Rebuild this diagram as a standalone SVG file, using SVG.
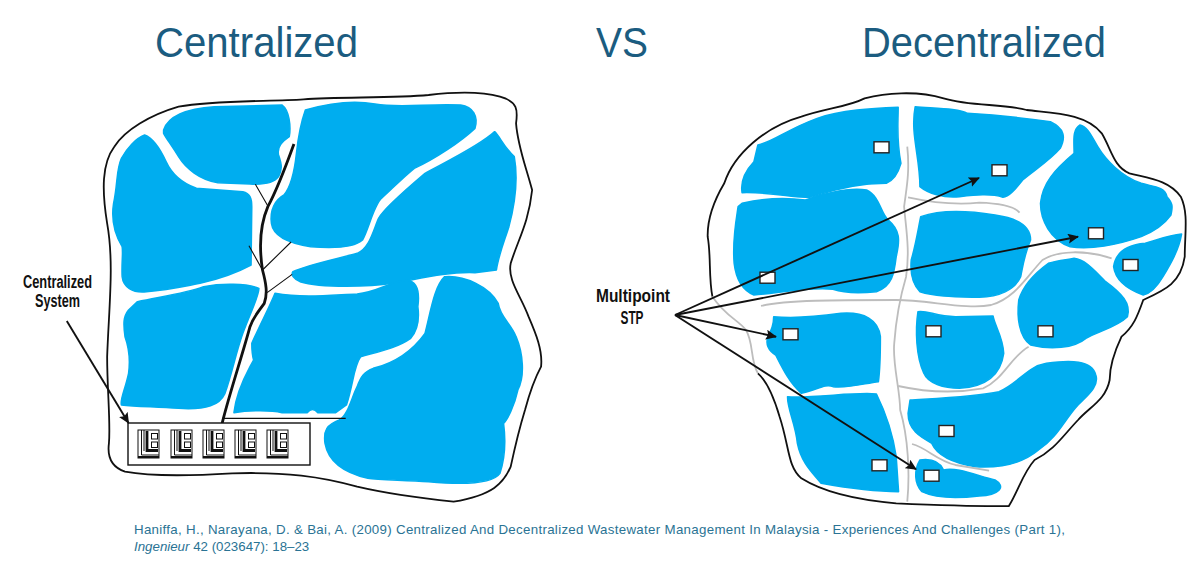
<svg xmlns="http://www.w3.org/2000/svg" width="1200" height="584" viewBox="0 0 1200 584">
<style>
.title{font-family:"Liberation Sans",Arial,sans-serif;font-size:43px;fill:#1b5c80}
.cite{font-family:"Liberation Sans",Arial,sans-serif;font-size:13.300px;fill:#2a7394}
.lab{font-family:"Liberation Sans",Arial,sans-serif;font-size:17.500px;font-weight:bold;fill:#111}
.blob{fill:#00adef;stroke:#00adef;stroke-width:1.5;stroke-linejoin:round;vector-effect:non-scaling-stroke}
.outline{fill:none;stroke:#111;stroke-width:1.8;vector-effect:non-scaling-stroke}
.road{fill:none;stroke:#bdbdbd;stroke-width:1.8;vector-effect:non-scaling-stroke}
.thin{fill:none;stroke:#111;stroke-width:1.1;vector-effect:non-scaling-stroke}
.trunk{fill:none;stroke:#111;stroke-width:2.8;vector-effect:non-scaling-stroke}
.stp{fill:#fff;stroke:#222;stroke-width:1.4}
.arrow{fill:none;stroke:#111;stroke-width:1.9;marker-end:url(#ah)}
</style>
<defs>
<marker id="ah" markerUnits="userSpaceOnUse" markerWidth="12" markerHeight="11" refX="10" refY="5" orient="auto"><path d="M0 0L11 5L0 10L2 5Z" fill="#111"/></marker>
<g id="icon">
<rect x="0" y="0" width="21" height="28" fill="#fff" stroke="#111"/>
<path d="M3.500 0V25H21M6 0V21" fill="none" stroke="#111"/>
<path d="M9 1V20.500H20" fill="none" stroke="#111" stroke-width="2.800"/>
<path d="M0 27H21" stroke="#111" stroke-width="2"/>
<rect x="13.500" y="3.500" width="6" height="5.500" fill="#fff" stroke="#111"/>
<rect x="13.500" y="12" width="6" height="5.500" fill="#fff" stroke="#111"/>
</g>
</defs>
<rect width="1200" height="584" fill="#fff"/>

<g id="titles">
<text class="title" x="155" y="57" textLength="203" lengthAdjust="spacingAndGlyphs">Centralized</text>
<text class="title" x="596" y="57" textLength="52" lengthAdjust="spacingAndGlyphs">VS</text>
<text class="title" x="862" y="57" textLength="244" lengthAdjust="spacingAndGlyphs">Decentralized</text>
</g>

<g id="centralized-map" transform="translate(0 90) scale(.35714 .33333)">
<path class="outline" d="M300 400C285 300 285 220 320 170C350 120 420 75 500 50C600 30 750 35 850 28C950 20 1100 25 1200 15C1280 5 1350 5 1400 20C1450 35 1450 60 1445 100C1450 170 1470 220 1490 300C1480 400 1450 450 1430 520C1420 570 1460 620 1480 680C1500 730 1520 780 1515 830C1490 880 1480 920 1470 960C1450 1030 1440 1080 1430 1130C1410 1180 1380 1215 1270 1235C1180 1225 1100 1215 1000 1190C900 1160 800 1145 650 1150C500 1160 400 1155 350 1145C310 1130 300 1100 305 1060C310 1000 300 900 300 800C305 650 320 520 300 400Z"/>
<path class="blob" d="M458 120C470 80 520 55 600 50L790 45C810 60 815 110 810 140C790 155 775 170 780 195C790 225 790 240 780 260C770 275 745 285 700 282L610 278C560 270 520 235 500 200C480 165 465 145 458 130Z"/>
<path class="blob" d="M855 60C920 40 990 30 1050 42C1120 55 1200 40 1290 45C1325 50 1340 80 1330 115C1290 155 1220 205 1160 235C1125 265 1090 305 1068 325C1045 350 1032 420 1015 450C990 475 930 475 870 470C810 460 765 440 760 400C755 360 770 330 795 315C815 290 825 240 830 190C835 140 845 90 855 60Z"/>
<path class="blob" d="M1385 125C1400 140 1410 170 1440 200C1450 260 1445 330 1425 410C1410 460 1395 500 1390 540L1330 548C1250 545 1180 565 1100 580C1040 590 900 595 840 575C820 565 815 555 820 545C860 525 950 505 1000 490C1035 475 1045 420 1060 385C1075 355 1135 300 1190 250C1240 220 1340 170 1385 125Z"/>
<path class="blob" d="M405 135C430 145 450 180 465 215C480 250 510 280 550 295L680 305C700 310 705 325 705 350L703 525C660 550 600 570 560 580C510 590 470 600 410 605C370 610 345 590 342 560C340 520 345 490 342 470C325 440 310 395 318 340C330 280 325 240 340 205C355 175 380 145 405 135Z"/>
<path class="blob" d="M385 635C450 620 520 610 570 590C620 580 690 580 725 595C725 620 700 670 680 730C660 790 650 850 630 910C615 945 580 960 500 955C430 950 380 950 340 945C335 930 350 900 360 850C365 810 360 770 350 740C345 700 345 680 360 660Z"/>
<path class="blob" d="M770 610C850 625 930 615 1000 612C1060 605 1090 575 1140 570C1170 575 1175 610 1170 650C1175 690 1170 720 1150 745C1110 775 1060 785 1010 800C990 830 990 880 970 945L940 968L890 968C880 955 870 955 860 968L790 968C760 960 700 960 655 968C660 920 685 860 700 830L710 810C705 790 705 780 705 760C730 700 755 650 770 610Z"/>
<path class="blob" d="M1245 560C1300 555 1370 590 1395 640C1400 680 1430 700 1445 740C1465 790 1470 860 1450 900C1440 950 1420 990 1410 1000C1415 1040 1415 1100 1400 1150C1380 1180 1300 1185 1200 1175C1130 1170 1060 1170 1030 1165C970 1150 920 1120 910 1060C905 1020 915 1005 950 990C975 975 985 920 1000 890C1010 860 1020 845 1045 835C1100 820 1150 790 1190 730C1205 670 1215 590 1245 560Z"/>
</g>

<g id="centralized-network" transform="translate(0 90) scale(.35714 .33333)">
<path class="trunk" d="M823 162C800 230 770 310 750 350C730 400 725 470 735 540C745 580 750 610 740 640C720 670 710 680 700 710C680 790 640 920 622 1000"/>
<path class="thin" d="M715 283L750 348M697 467L735 540M815 456L735 540M818 553L748 608M622 985H968"/>
</g>

<g id="centralized-system">
<rect x="128" y="423" width="182" height="42" fill="#fff" stroke="#111" stroke-width="1.4"/>
<use href="#icon" x="138" y="430"/>
<use href="#icon" x="171" y="430"/>
<use href="#icon" x="203" y="430"/>
<use href="#icon" x="235" y="430"/>
<use href="#icon" x="267" y="430"/>
</g>

<g id="centralized-label">
<text class="lab" x="23" y="288" textLength="69" lengthAdjust="spacingAndGlyphs">Centralized</text>
<text class="lab" x="35" y="307" textLength="45" lengthAdjust="spacingAndGlyphs">System</text>
</g>

<g id="decentralized-map" transform="translate(580 90) scale(.39526 .33333)">
<path class="outline" d="M335 620C325 560 332 500 323 440C322 380 345 320 365 280C390 190 470 110 560 80C620 55 680 50 720 25C770 10 850 0 920 25C990 50 1070 40 1130 60C1200 70 1280 70 1320 130C1345 180 1350 230 1390 250C1440 265 1490 270 1520 320C1540 370 1530 430 1530 500C1520 580 1480 600 1425 630C1410 680 1400 710 1370 740C1350 790 1340 830 1340 870C1330 930 1290 950 1260 990C1220 1040 1200 1080 1150 1110C1120 1150 1110 1200 1085 1248C1000 1250 900 1245 800 1240C700 1230 620 1210 560 1165C525 1130 530 1070 505 980C490 920 470 870 450 850"/>
<path class="road" d="M335 620C370 680 400 690 420 720C440 760 430 810 450 850"/>
<path class="blob" d="M450 165C490 155 520 120 600 85C660 60 740 55 805 52C805 100 800 150 812 220C805 250 795 270 775 280C720 280 650 295 590 320C550 330 500 305 410 308C405 270 420 240 440 215Z"/>
<path class="blob" d="M410 340C480 320 540 325 570 330C620 310 680 290 725 300C760 320 760 370 780 390C810 420 810 450 800 500C795 550 790 590 750 605C710 610 670 610 640 598C580 590 500 610 440 615C410 600 395 570 390 520C385 450 395 390 400 350Z"/>
<path class="blob" d="M848 50C900 55 960 55 980 70C1050 75 1130 85 1190 95C1225 115 1230 140 1215 175C1190 210 1150 240 1120 270C1100 300 1085 320 1070 322C1040 310 1000 315 960 320C920 325 880 310 860 290C860 200 835 130 848 50Z"/>
<path class="blob" d="M862 380C910 360 970 360 1050 375C1110 385 1140 410 1140 450C1125 490 1120 530 1115 560C1100 600 1060 620 1010 622C950 620 900 620 860 605C840 580 835 550 838 510C850 460 855 420 862 380Z"/>
<path class="blob" d="M1265 105C1285 110 1295 140 1310 170C1330 210 1370 260 1420 280C1450 290 1480 290 1485 320C1500 340 1500 350 1495 375C1480 400 1460 420 1420 440C1360 465 1290 480 1240 470C1190 450 1165 390 1165 340C1170 280 1200 240 1250 190C1250 150 1245 120 1265 105Z"/>
<path class="blob" d="M1522 432C1515 480 1495 520 1475 560C1460 590 1445 610 1425 615C1390 600 1355 575 1350 530C1355 490 1380 465 1430 460C1460 450 1490 435 1522 432Z"/>
<path class="blob" d="M1250 505C1280 510 1300 540 1330 575C1370 610 1395 640 1385 680C1360 710 1310 725 1280 745C1250 775 1190 780 1140 765C1110 740 1105 680 1110 630C1120 590 1150 550 1185 520C1210 510 1230 510 1250 505Z"/>
<path class="blob" d="M490 680C530 685 600 680 660 670C720 665 755 690 760 740C760 790 760 830 755 875C720 880 680 895 640 890C620 880 600 900 560 910C530 880 510 830 495 795C475 780 470 760 475 740C485 720 490 700 490 680Z"/>
<path class="blob" d="M855 665C880 660 900 680 950 680L1045 678C1050 710 1070 740 1072 790C1065 850 1030 890 960 895C920 895 880 880 870 850C850 800 848 720 855 665Z"/>
<path class="blob" d="M835 930C900 925 1000 920 1060 905C1110 880 1130 830 1180 820C1240 810 1295 810 1305 855C1315 890 1280 920 1260 945C1225 990 1210 1040 1160 1080C1120 1120 1070 1135 1000 1130C950 1120 905 1100 890 1060C860 1040 830 1020 830 970Z"/>
<path class="blob" d="M525 920C590 925 700 905 750 912C770 960 790 1020 800 1100L806 1205C750 1205 680 1195 610 1180C590 1150 560 1120 550 1060C545 1000 525 960 525 920Z"/>
<path class="blob" d="M860 1110C890 1105 910 1115 920 1140C950 1130 1000 1155 1050 1170C1080 1190 1060 1215 1010 1218C960 1225 900 1225 865 1205C845 1180 845 1140 860 1110Z"/>
<path class="road" d="M828 170C835 250 825 300 820 350C825 420 835 480 825 560C810 620 800 680 795 760C790 820 810 900 810 960C830 1040 835 1150 828 1235"/>
<path class="road" d="M830 322C880 335 950 345 1010 338C1060 340 1100 350 1112 368"/>
<path class="road" d="M458 648C520 630 650 630 800 630C880 630 980 660 1040 645C1100 625 1130 560 1170 510C1210 480 1280 480 1345 505"/>
<path class="road" d="M805 888C870 905 950 910 1020 895C1070 870 1090 800 1135 770"/>
<path class="road" d="M840 1062C880 1075 900 1110 950 1125L1035 1142"/>
</g>

<g id="stp-units">
<rect class="stp" x="874" y="141.800" width="15" height="11"/>
<rect class="stp" x="992" y="164.800" width="15" height="11"/>
<rect class="stp" x="1088.500" y="227.800" width="15" height="11"/>
<rect class="stp" x="1123" y="259.500" width="15" height="11"/>
<rect class="stp" x="760" y="272.200" width="15" height="11"/>
<rect class="stp" x="783" y="328.800" width="15" height="11"/>
<rect class="stp" x="926" y="325.800" width="15" height="11"/>
<rect class="stp" x="1038" y="325.800" width="15" height="11"/>
<rect class="stp" x="939" y="425.500" width="15" height="11"/>
<rect class="stp" x="872" y="459.800" width="15" height="11"/>
<rect class="stp" x="924" y="470.200" width="15" height="11"/>
</g>

<g id="connectors">
<path class="arrow" d="M66.800 321L128.500 423" stroke-width="1.3"/>
<path class="arrow" d="M675 315L979 178"/>
<path class="arrow" d="M675 315L1078 236.700"/>
<path class="arrow" d="M675 315L776 336.700"/>
<path class="arrow" d="M675 315L916 469.300"/>
</g>

<g id="multipoint-label">
<text class="lab" x="596" y="302" textLength="74" lengthAdjust="spacingAndGlyphs">Multipoint</text>
<text class="lab" x="620.500" y="324" textLength="23" lengthAdjust="spacingAndGlyphs">STP</text>
</g>

<g id="citation">
<text class="cite" x="134" y="534" textLength="931">Haniffa, H., Narayana, D. &amp; Bai, A. (2009) Centralized And Decentralized Wastewater Management In Malaysia - Experiences And Challenges (Part 1),</text>
<text class="cite" x="134" y="551"><tspan font-style="italic">Ingenieur</tspan> 42 (023647): 18–23</text>
</g>
</svg>
